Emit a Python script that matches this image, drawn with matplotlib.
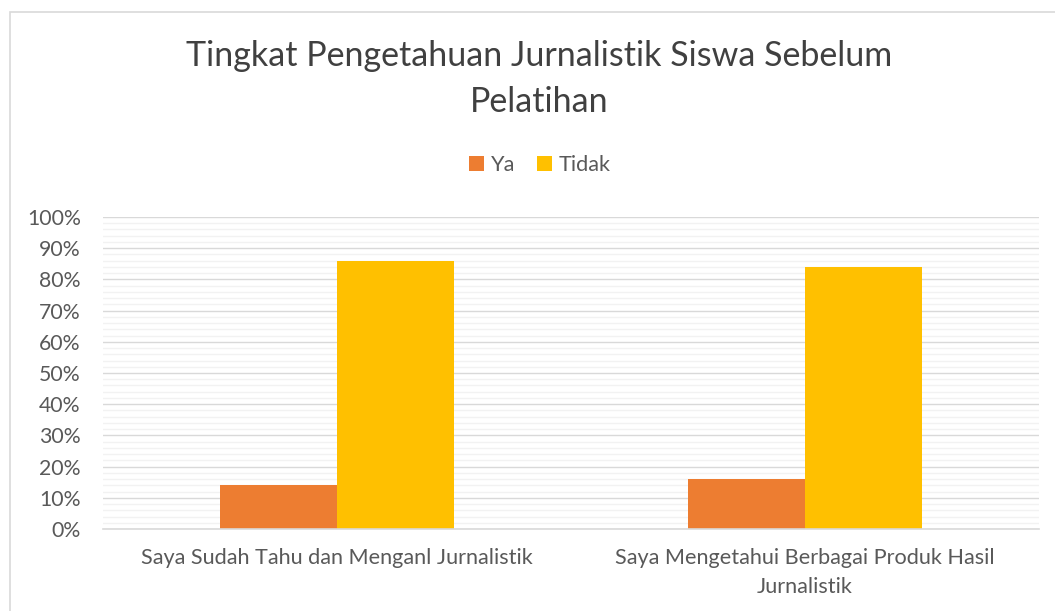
import matplotlib
matplotlib.use("Agg")
import matplotlib.pyplot as plt
from matplotlib.patches import Rectangle
from matplotlib.ticker import MultipleLocator, PercentFormatter
import numpy as np

categories = ["Saya Sudah Tahu dan Menganl Jurnalistik",
              "Saya Mengetahui Berbagai Produk Hasil\nJurnalistik"]
series_names = ["Ya", "Tidak"]
ya_values = [14, 16]
tidak_values = [86, 84]
colors = ["#ED7D31", "#FFC000"]
title = "Tingkat Pengetahuan Jurnalistik Siswa Sebelum\nPelatihan"

plt.rcParams['font.family'] = ['Lato', 'DejaVu Sans']
text_color = "#595959"

fig = plt.figure(figsize=(10.55, 6.11), dpi=100)
fig.patches.append(Rectangle((10/1055, -0.1), 1.2, 1 - 12/611 + 0.1,
                             transform=fig.transFigure, fill=False,
                             edgecolor="#d9d9d9", linewidth=1.2))

ax = fig.add_axes([103/1055, 1 - 529/611, (1039 - 103)/1055, (529 - 217)/611])
x = np.arange(len(categories))
w = 0.25
ax.bar(x - w/2, ya_values, w, color=colors[0], label=series_names[0], zorder=3)
ax.bar(x + w/2, tidak_values, w, color=colors[1], label=series_names[1], zorder=3)

ax.set_xlim(-0.5, len(categories) - 0.5)
ax.set_ylim(0, 100)
ax.yaxis.set_major_locator(MultipleLocator(10))
ax.yaxis.set_minor_locator(MultipleLocator(2))
ax.yaxis.set_major_formatter(PercentFormatter(decimals=0))
ax.grid(axis='y', which='major', color="#d9d9d9", linewidth=1.0, zorder=1)
ax.grid(axis='y', which='minor', color="#f2f2f2", linewidth=1.0, zorder=0)
for s in ["top", "right", "left"]:
    ax.spines[s].set_visible(False)
ax.spines["bottom"].set_color("#d9d9d9")
ax.spines["bottom"].set_linewidth(1.2)
ax.spines["bottom"].set_zorder(4)
ax.tick_params(axis='both', which='both', length=0, colors=text_color, labelsize=15.3)
ax.tick_params(axis='y', pad=16)
ax.tick_params(axis='x', labelsize=15.6, pad=14)
ax.set_xticks(x)
ax.set_xticklabels(categories, color=text_color, linespacing=1.55)

fig.text(539/1055, 1 - 79/611, title, ha='center', va='center',
         fontsize=24.5, color="#404040", linespacing=1.5)
fig.legend(loc='center', bbox_to_anchor=(540/1055, 1 - 165/611), ncol=2,
           frameon=False, fontsize=15.6, labelcolor=text_color,
           handlelength=0.7, handleheight=0.7, handletextpad=0.3,
           columnspacing=1.0)

fig.savefig("out.png", dpi=100)
